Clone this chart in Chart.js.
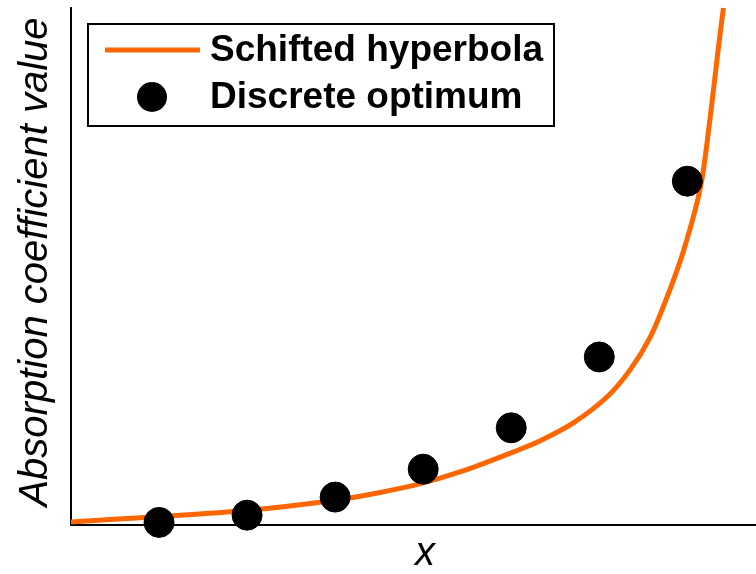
<!DOCTYPE html>
<html>
<head>
<meta charset="utf-8">
<script src="https://cdn.jsdelivr.net/npm/chart.js"></script>
<style>
  html, body { margin: 0; padding: 0; background: #fff; overflow: hidden; }
  #wrap { width: 756px; height: 574px; position: relative; }
</style>
</head>
<body>
<div id="wrap"><canvas id="c"></canvas></div>
<script>
// curve (x, y)
const curveX = [0, 0.98, 1.99, 3.0, 3.51, 3.97, 4.46, 5.02, 5.33, 5.71, 6.09, 6.35, 6.58, 6.77, 6.96, 7.15, 7.26, 7.35, 7.41];
const curveY = [0.06, 0.16, 0.28, 0.48, 0.63, 0.80, 1.05, 1.41, 1.63, 1.98, 2.48, 3.0, 3.64, 4.41, 5.32, 6.54, 7.89, 9.19, 10.0];

// discrete optimum points
const dotX = [1, 2, 3, 4, 5, 6, 7];
const dotY = [0.05, 0.19, 0.54, 1.08, 1.88, 3.25, 6.65];

const seriesNames = ['Schifted hyperbola', 'Discrete optimum'];
const xTitle = 'x';
const yTitle = 'Absorption coefficient value';

const ORANGE = '#ff6600';

// legend box + axis titles drawn by hand
const extras = {
    id: 'extras',
    afterDraw(chart) {
        const ctx = chart.ctx;
        ctx.save();
        // axis titles
        ctx.fillStyle = '#000';
        ctx.font = 'italic 40px "Liberation Sans", Arial, sans-serif';
        ctx.textAlign = 'center';
        ctx.textBaseline = 'middle';
        ctx.fillText(xTitle, 425, 554);
        ctx.translate(36, 262);
        ctx.rotate(-Math.PI / 2);
        ctx.fillText(yTitle, 0, 0);
        ctx.restore();

        // legend
        ctx.save();
        ctx.fillStyle = '#fff';
        ctx.fillRect(88, 24, 466, 102);
        ctx.strokeStyle = '#000';
        ctx.lineWidth = 2;
        ctx.strokeRect(88, 24, 466, 102);
        ctx.strokeStyle = ORANGE;
        ctx.lineWidth = 5;
        ctx.beginPath();
        ctx.moveTo(105, 50);
        ctx.lineTo(200, 50);
        ctx.stroke();
        ctx.fillStyle = '#000';
        ctx.beginPath();
        ctx.arc(152, 97, 15, 0, Math.PI * 2);
        ctx.fill();
        ctx.font = 'bold 37px "Liberation Sans", Arial, sans-serif';
        ctx.textAlign = 'left';
        ctx.textBaseline = 'middle';
        ctx.fillText(seriesNames[0], 210, 51);
        ctx.fillText(seriesNames[1], 210, 98);
        ctx.restore();
    }
};

new Chart(document.getElementById('c'), {
    type: 'scatter',
    data: {
        datasets: [{
            label: seriesNames[0],
            data: curveX.map((x, i) => ({ x: x, y: curveY[i] })),
            showLine: true,
            borderColor: ORANGE,
            borderWidth: 5,
            pointRadius: 0,
            tension: 0.3,
            clip: false,
            order: 2
        }, {
            label: seriesNames[1],
            data: dotX.map((x, i) => ({ x: x, y: dotY[i] })),
            backgroundColor: '#000',
            borderColor: '#000',
            pointRadius: 15,
            clip: false,
            order: 1
        }]
    },
    options: {
        responsive: true,
        maintainAspectRatio: false,
        animation: false,
        layout: { autoPadding: false, padding: { left: 71, top: 8, right: 0, bottom: 49 } },
        plugins: {
            legend: { display: false },
            tooltip: { enabled: false }
        },
        scales: {
            x: {
                type: 'linear',
                min: 0,
                max: 7.78,
                grid: { display: false, drawTicks: false },
                ticks: { display: false },
                border: { display: true, color: '#000', width: 2 }
            },
            y: {
                type: 'linear',
                min: 0,
                max: 10,
                grid: { display: false, drawTicks: false },
                ticks: { display: false },
                border: { display: true, color: '#000', width: 2 }
            }
        }
    },
    plugins: [extras]
});
</script>
</body>
</html>
